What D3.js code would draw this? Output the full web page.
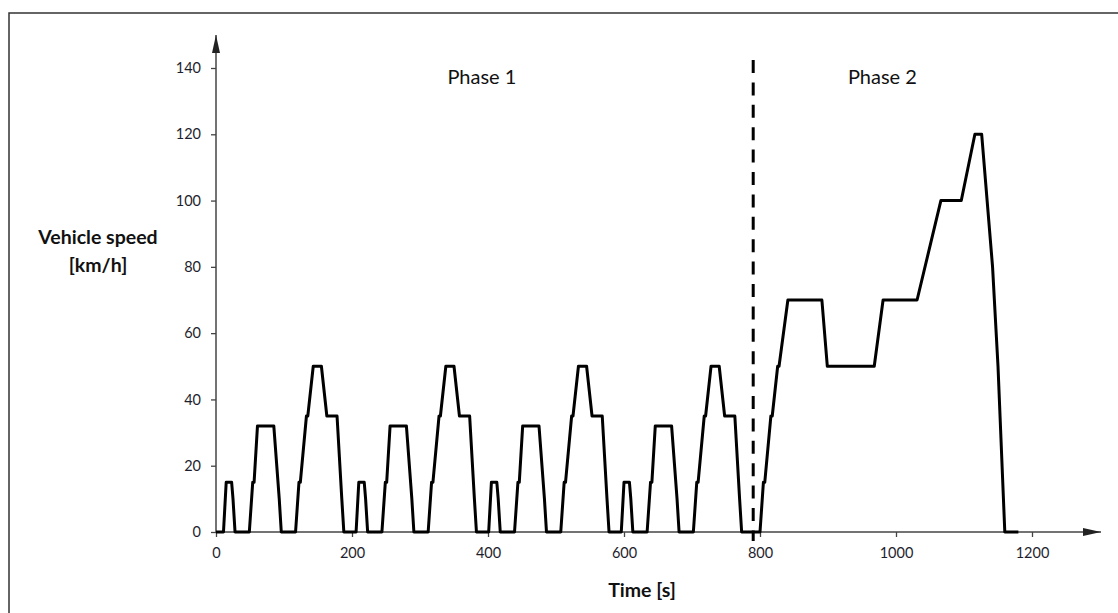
<!DOCTYPE html>
<html>
<head>
<meta charset="utf-8">
<script src="https://cdn.jsdelivr.net/npm/d3@7"></script>
<style>
  html, body { margin: 0; padding: 0; background: #fff; }
  svg { display: block; font-family: Lato, "Open Sans", sans-serif; }
</style>
</head>
<body>
<svg id="chart" width="1118" height="613"></svg>
<script>
// NEDC driving cycle: four urban ECE-15 cycles followed by one extra-urban cycle.
// Breakpoints of the speed trace (time in s, speed in km/h).
const timePoints = [
  0, 11, 15, 23, 25, 28, 49, 54, 56, 61, 85, 93, 96, 117, 122, 124, 133, 135, 143, 155, 163, 176, 178, 185, 188,
  195, 206, 210, 218, 220, 223, 244, 249, 251, 256, 280, 288, 291, 312, 317, 319, 328, 330, 338, 350, 358, 371, 373, 380, 383,
  390, 401, 405, 413, 415, 418, 439, 444, 446, 451, 475, 483, 486, 507, 512, 514, 523, 525, 533, 545, 553, 566, 568, 575, 578,
  585, 596, 600, 608, 610, 613, 634, 639, 641, 646, 670, 678, 681, 702, 707, 709, 718, 720, 728, 740, 748, 761, 763, 770, 773,
  780, 800, 805, 807, 816, 818, 826, 828, 841, 891, 899, 968, 981, 1031, 1066, 1096, 1116, 1126, 1142, 1150, 1160, 1180
];
const speedPoints = [
  0, 0, 15, 15, 10, 0, 0, 15, 15, 32, 32, 10, 0, 0, 15, 15, 35, 35, 50, 50, 35, 35, 35, 10, 0,
  0, 0, 15, 15, 10, 0, 0, 15, 15, 32, 32, 10, 0, 0, 15, 15, 35, 35, 50, 50, 35, 35, 35, 10, 0,
  0, 0, 15, 15, 10, 0, 0, 15, 15, 32, 32, 10, 0, 0, 15, 15, 35, 35, 50, 50, 35, 35, 35, 10, 0,
  0, 0, 15, 15, 10, 0, 0, 15, 15, 32, 32, 10, 0, 0, 15, 15, 35, 35, 50, 50, 35, 35, 35, 10, 0,
  0, 0, 15, 15, 35, 35, 50, 50, 70, 70, 50, 50, 70, 70, 100, 100, 120, 120, 80, 50, 0, 0
];

const xTicks = [0, 200, 400, 600, 800, 1000, 1200];
const yTicks = [0, 20, 40, 60, 80, 100, 120, 140];

const phaseBoundary = 790;
const phaseLabels = [
  { text: "Phase 1", t: 391 },
  { text: "Phase 2", t: 980 }
];

const svg = d3.select("#chart");
const W = 1118, H = 613;

const x = d3.scaleLinear().domain([0, 1200]).range([216, 1032]);
const y = d3.scaleLinear().domain([0, 140]).range([532, 68]);

const axisColor = "#444";
const textColor = "#1e1e2e";

// outer frame (left and top edges)
svg.append("path")
  .attr("d", `M9,${H} L9,13 L${W},13`)
  .attr("fill", "none")
  .attr("stroke", "#333")
  .attr("stroke-width", 1.5);

// arrowheads for the axes
const defs = svg.append("defs");
defs.append("marker")
  .attr("id", "arrow")
  .attr("viewBox", "0 0 18 8")
  .attr("refX", 18).attr("refY", 4)
  .attr("markerWidth", 18).attr("markerHeight", 8)
  .attr("markerUnits", "userSpaceOnUse")
  .attr("orient", "auto")
  .append("path")
  .attr("d", "M0,0 L18,4 L0,8 Z")
  .attr("fill", "#222");

// Y axis
const yAxis = d3.axisLeft(y).tickValues(yTicks).tickSize(5).tickPadding(10).tickFormat(d3.format("d"));
const gy = svg.append("g").attr("transform", `translate(${x(0)},0)`).call(yAxis);
gy.select(".domain").remove();
gy.selectAll(".tick line").attr("stroke", axisColor).attr("stroke-width", 1.3);
gy.selectAll(".tick text").attr("fill", textColor).style("font-size", "14.5px").style("font-family", "Lato, sans-serif");

svg.append("line")
  .attr("x1", x(0)).attr("y1", y(0))
  .attr("x2", x(0)).attr("y2", 35)
  .attr("stroke", axisColor).attr("stroke-width", 1.5)
  .attr("marker-end", "url(#arrow)");

// X axis
const xAxis = d3.axisBottom(x).tickValues(xTicks).tickSize(5).tickPadding(11).tickFormat(d3.format("d"));
const gx = svg.append("g").attr("transform", `translate(0,${y(0)})`).call(xAxis);
gx.select(".domain").remove();
gx.selectAll(".tick line").attr("stroke", axisColor).attr("stroke-width", 1.3);
gx.selectAll(".tick text").attr("fill", textColor).style("font-size", "14.5px").style("font-family", "Lato, sans-serif");

svg.append("line")
  .attr("x1", x(0)).attr("y1", y(0))
  .attr("x2", 1101).attr("y2", y(0))
  .attr("stroke", axisColor).attr("stroke-width", 1.5)
  .attr("marker-end", "url(#arrow)");

// phase separator
svg.append("line")
  .attr("x1", x(phaseBoundary)).attr("x2", x(phaseBoundary))
  .attr("y1", 60).attr("y2", 541)
  .attr("stroke", "#000")
  .attr("stroke-width", 3)
  .attr("stroke-dasharray", "13,9.4");

// speed trace
const data = timePoints.map((t, i) => ({ t, v: speedPoints[i] }));
const line = d3.line().x(d => x(d.t)).y(d => y(d.v));
svg.append("path")
  .datum(data)
  .attr("d", line)
  .attr("fill", "none")
  .attr("stroke", "#000")
  .attr("stroke-width", 3)
  .attr("stroke-linejoin", "round");

// phase labels
svg.selectAll(".phase")
  .data(phaseLabels)
  .join("text")
  .attr("class", "phase")
  .attr("x", d => x(d.t))
  .attr("y", 84)
  .attr("text-anchor", "middle")
  .attr("fill", "#111")
  .style("font-size", "20px")
  .text(d => d.text);

// axis titles
const yTitle = svg.append("text")
  .attr("text-anchor", "middle")
  .attr("fill", "#111")
  .style("font-size", "19.5px")
  .style("font-weight", "bold");
yTitle.append("tspan").attr("x", 98).attr("y", 244).text("Vehicle speed");
yTitle.append("tspan").attr("x", 98).attr("y", 272).text("[km/h]");

svg.append("text")
  .attr("x", 642).attr("y", 597)
  .attr("text-anchor", "middle")
  .attr("fill", "#111")
  .style("font-size", "19.5px")
  .style("font-weight", "bold")
  .text("Time [s]");
</script>
</body>
</html>
